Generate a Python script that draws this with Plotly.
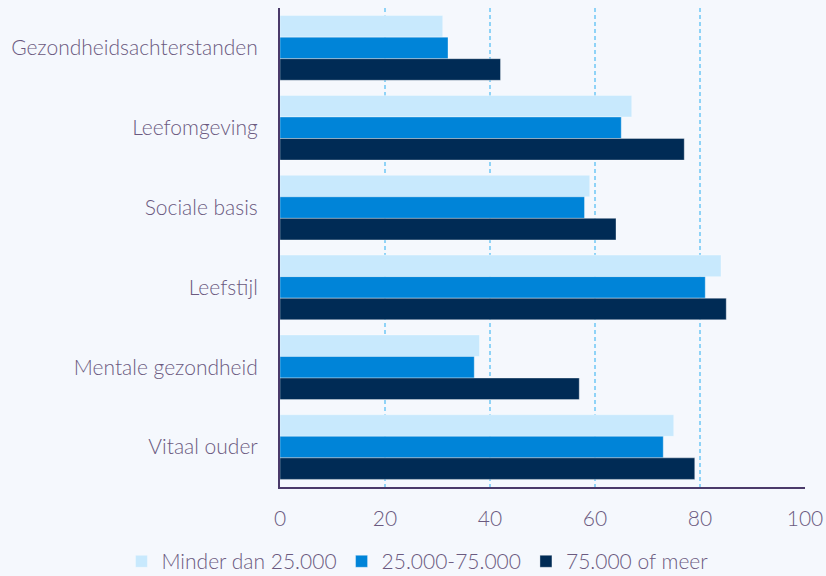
import plotly.graph_objects as go

categories = ["Gezondheidsachterstanden", "Leefomgeving", "Sociale basis", "Leefstijl",
              "Mentale gezondheid", "Vitaal ouder"]
series_names = ["Minder dan 25.000", "25.000-75.000", "75.000 of meer"]
low = [31, 67, 59, 84, 38, 75]
mid = [32, 65, 58, 81, 37, 73]
high = [42, 77, 64, 85, 57, 79]
colors = ["#c8e9fd", "#0084d8", "#002b55"]

fig = go.Figure()
for name, vals, col in zip(series_names, [low, mid, high], colors):
    fig.add_trace(go.Bar(
        y=categories, x=vals, name=name, orientation="h",
        marker=dict(color=col, line=dict(color="rgba(255,255,255,0.35)", width=1)),
    ))

txt = "#6b5a80"
fnt = "Lato"
fig.update_layout(
    width=826, height=576,
    margin=dict(l=280, r=21, t=8, b=89, autoexpand=False),
    paper_bgcolor="#f5f8fd", plot_bgcolor="#f5f8fd",
    barmode="group", bargap=0.19, bargroupgap=0,
    font=dict(family=fnt, size=21, color=txt, weight=300),
    showlegend=True,
    legend=dict(orientation="h", x=-0.302, xanchor="left", y=-0.113, yanchor="top",
                font=dict(family=fnt, size=21, color=txt, weight=300),
                traceorder="normal", itemwidth=30, bgcolor="rgba(0,0,0,0)"),
    xaxis=dict(range=[0, 100], tickvals=[0, 20, 40, 60, 80, 100], showgrid=True,
               gridcolor="#8fd3f7", griddash="4px,3px", gridwidth=1.5,
               showline=True, linecolor="#4a3a6a", linewidth=2, zeroline=False,
               ticks="", tickfont=dict(family=fnt, size=21, color=txt, weight=300),
               ticklabelstandoff=12, automargin=False),
    yaxis=dict(autorange="reversed", showline=True, linecolor="#4a3a6a", linewidth=2,
               showgrid=False, ticks="", ticklabelstandoff=16, automargin=False,
               tickfont=dict(family=fnt, size=21, color=txt, weight=300)),
)
fig.write_html("out.html", config={"displayModeBar": False},
               post_script="document.body.style.margin='0';")
